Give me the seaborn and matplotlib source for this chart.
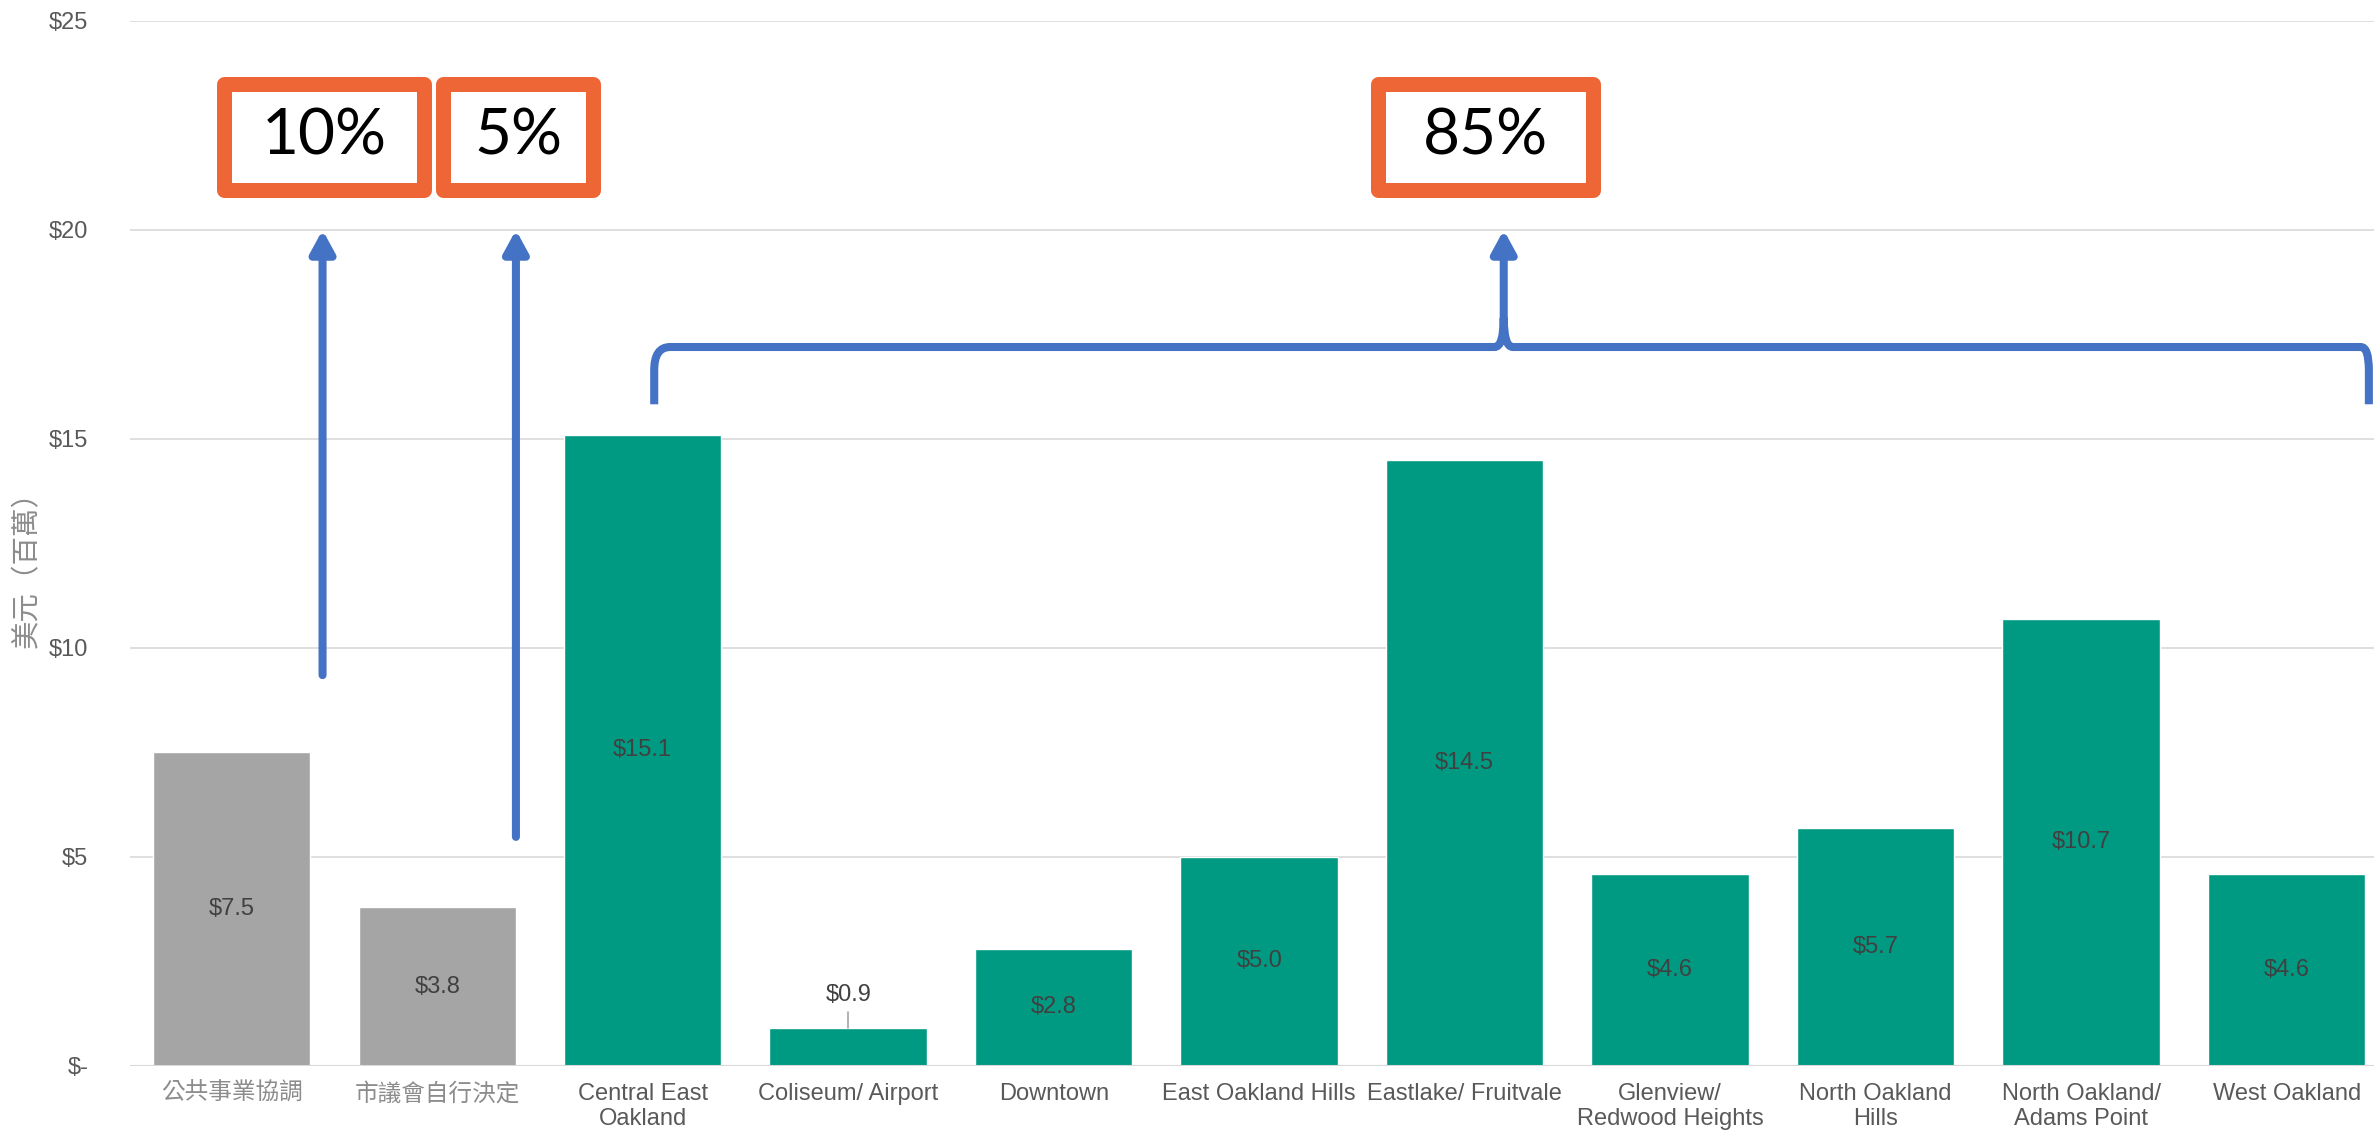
import matplotlib.pyplot as plt
import matplotlib.patches as mpatches
from matplotlib.path import Path
import pandas as pd
import seaborn as sns

sns.set_theme(style="white")
plt.rcParams["font.family"] = ["Liberation Sans", "Noto Sans CJK TC"]

categories = ["公共事業協調", "市議會自行決定", "Central East\nOakland", "Coliseum/ Airport",
              "Downtown", "East Oakland Hills", "Eastlake/ Fruitvale", "Glenview/\nRedwood Heights",
              "North Oakland\nHills", "North Oakland/\nAdams Point", "West Oakland"]
values = [7.5, 3.8, 15.1, 0.9, 2.8, 5.0, 14.5, 4.6, 5.7, 10.7, 4.6]
groups = ["other", "other"] + ["district"] * 9
shares = ["10%", "5%", "85%"]
y_ticks = [0, 5, 10, 15, 20, 25]

GREY = "#A5A5A5"
TEAL = "#009A82"
ORANGE = "#EE6636"
BLUE = "#4472C4"

df = pd.DataFrame({"area": categories, "value": values, "group": groups})

fig = plt.figure(figsize=(23.74, 11.34), dpi=100)
ax = fig.add_axes([130 / 2374, 0.06, 1 - 130 / 2374, 0.9215])

sns.barplot(data=df, x="area", y="value", hue="group",
            palette={"other": GREY, "district": TEAL}, width=0.766,
            legend=False, ax=ax, saturation=1)

ax.set_xlim(-0.495, 10.425)
ax.set_ylim(0, 25)
ax.set_yticks(y_ticks)
ax.set_yticklabels(["$-" if t == 0 else f"${t}" for t in y_ticks])
ax.yaxis.grid(True, color="#D9D9D9", linewidth=1.2)
ax.set_axisbelow(True)
for s in ax.spines.values():
    s.set_visible(False)
ax.axhline(0, color="#D9D9D9", linewidth=2.2, zorder=3)
ax.tick_params(axis="y", length=0, pad=30, labelsize=17, labelcolor="#595959")
ax.tick_params(axis="x", length=0, pad=12, labelsize=17, labelcolor="#595959")
# the Chinese labels are drawn lighter in the original
for lbl in ax.get_xticklabels()[:2]:
    lbl.set_color("#8C8C8C")
ax.set_xlabel("")
ax.set_ylabel("")
fig.text(28 / 2374, 1 - 563 / 1134, "美元（百萬）", rotation=90, ha="center", va="center",
         fontsize=20.5, color="#8C8C8C")

# bar value labels
for i, v in enumerate(values):
    if v < 1.5:
        ax.text(i, 1.70, f"${v:.1f}", ha="center", va="center", fontsize=17, color="#404040")
        ax.plot([i, i], [v, 1.29], color="#A6A6A6", linewidth=1.2)
    else:
        ax.text(i, v / 2, f"${v:.1f}", ha="center", va="center", fontsize=17, color="#404040")

# share boxes
boxes = [(-0.074, 0.972), (0.994, 1.797), (5.54, 6.66)]
ybot, ytop = 20.77, 23.68
dx, dy = 0.0365, 0.18
for (x0, x1), label in zip(boxes, shares):
    rect = mpatches.Rectangle((x0 + dx, ybot + dy), x1 - x0 - 2 * dx, ytop - ybot - 2 * dy,
                              facecolor="white", edgecolor=ORANGE, linewidth=10.8,
                              joinstyle="round", zorder=5, clip_on=False)
    ax.add_patch(rect)
    ax.text((x0 + x1) / 2, (ybot + ytop) / 2, label, ha="center", va="center",
            fontsize=46, color="black", family="Lato", zorder=6)

# arrows
arrows = [(0.442, 9.35), (1.383, 5.48), (6.19, 17.6)]
for x, y0 in arrows:
    ax.annotate("", xy=(x, 20.0), xytext=(x, y0),
                arrowprops=dict(arrowstyle="-|>,head_length=1.1,head_width=0.6",
                                color=BLUE, linewidth=5.8, shrinkA=0, shrinkB=0),
                zorder=4)

# brace
yb = 17.2
verts = [(2.056, 15.83), (2.056, 16.65), (2.056, yb), (2.134, yb),
         (6.145, yb), (6.19, yb), (6.19, 17.9),
         (6.19, yb), (6.235, yb),
         (10.36, yb), (10.40, yb), (10.40, 16.65), (10.40, 15.83)]
codes = [Path.MOVETO, Path.LINETO, Path.CURVE3, Path.CURVE3,
         Path.LINETO, Path.CURVE3, Path.CURVE3,
         Path.CURVE3, Path.CURVE3,
         Path.LINETO, Path.CURVE3, Path.CURVE3, Path.LINETO]
ax.add_patch(mpatches.PathPatch(Path(verts, codes), facecolor="none", edgecolor=BLUE,
                                linewidth=5.8, capstyle="butt", zorder=4, clip_on=False))

fig.savefig("out.png", dpi=100)
